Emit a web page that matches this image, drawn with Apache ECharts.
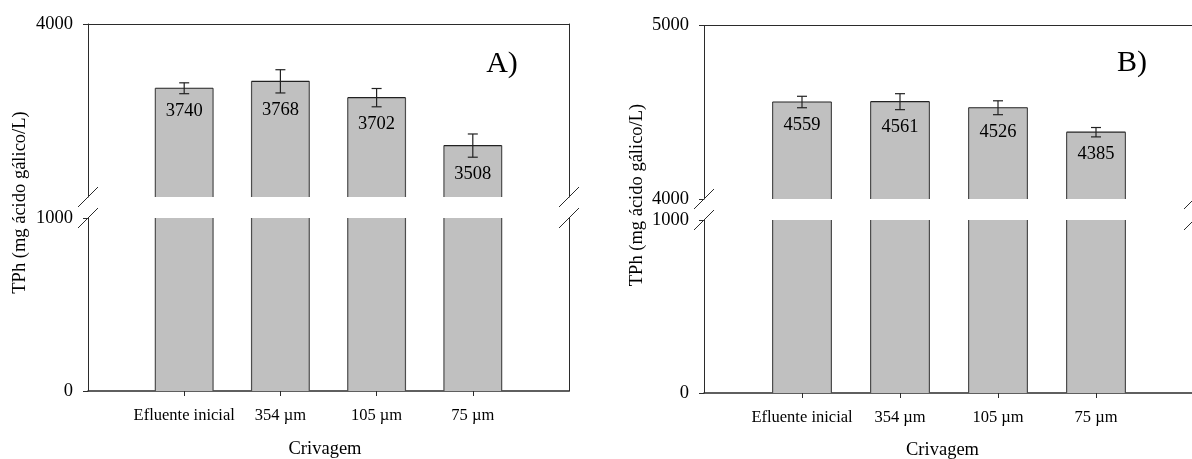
<!DOCTYPE html>
<html>
<head>
<meta charset="utf-8">
<script src="https://cdn.jsdelivr.net/npm/echarts@6/dist/echarts.min.js"></script>
<style>
  html, body { margin: 0; padding: 0; background: #fff; }
  #chart { width: 1192px; height: 459px; }
</style>
</head>
<body>
<div id="chart"></div>
<script>
// TPh por fração de crivagem (média ± desvio)
const categories = ['Efluente inicial', '354 µm', '105 µm', '75 µm'];
const tphA = [3740, 3768, 3702, 3508];
const errA = [22, 47, 37, 47];
const tphB = [4559, 4561, 4526, 4385];
const errB = [33, 46, 40, 27];

// segments of the broken value axes
const upperA = [3300, 4000];
const upperB = [4000, 5000];
const lowerRange = [0, 1000];
const upperTicksA = [4000];
const upperTicksB = [4000, 5000];
const lowerTicks = [0, 1000];

const panelLetters = ['A)', 'B)'];
const yTitle = 'TPh (mg ácido gálico/L)';
const xTitle = 'Crivagem';

const FONT = '"Liberation Serif", "Times New Roman", serif';
const AXIS_COLOR = '#2b2b2b';

// category slots: one empty slot on each side of the four fractions
const slots = [''].concat(categories, ['']);

const chart = echarts.init(document.getElementById('chart'));

// grid boxes: [A upper, A lower, B upper, B lower]
const grids = [
  { left: 88, top: 24, width: 481, height: 173 },
  { left: 88, top: 218, width: 481, height: 173 },
  { left: 704, top: 25.5, width: 490, height: 173.5 },
  { left: 704, top: 220, width: 490, height: 173 }
].map(g => Object.assign({ outerBoundsMode: 'none', containLabel: false }, g));

function xAxisFor(gridIndex, isLower) {
  return {
    type: 'category',
    gridIndex,
    data: slots,
    boundaryGap: false,
    position: isLower ? 'bottom' : 'top',
    axisLine: { show: true, lineStyle: { color: AXIS_COLOR, width: isLower ? 1.5 : 1 } },
    axisTick: {
      show: isLower,
      length: 5,
      inside: false,
      interval: (i) => i >= 1 && i <= categories.length,
      lineStyle: { color: AXIS_COLOR }
    },
    axisLabel: {
      show: isLower,
      interval: 0,
      margin: 16,
      color: '#000',
      fontFamily: FONT,
      fontSize: 16.5
    },
    splitLine: { show: false }
  };
}

function yAxisLeft(gridIndex, range, ticks) {
  return {
    type: 'value',
    gridIndex,
    position: 'left',
    min: range[0],
    max: range[1],
    axisLine: { show: true, lineStyle: { color: AXIS_COLOR, width: 1 } },
    axisTick: { show: true, length: 5, inside: false, customValues: ticks, lineStyle: { color: AXIS_COLOR } },
    axisLabel: {
      show: true,
      customValues: ticks,
      formatter: (v) => String(v),
      margin: 15,
      color: '#000',
      fontFamily: FONT,
      fontSize: 18.5
    },
    splitLine: { show: false }
  };
}

function yAxisRight(gridIndex, range) {
  return {
    type: 'value',
    gridIndex,
    position: 'right',
    min: range[0],
    max: range[1],
    axisLine: { show: true, lineStyle: { color: AXIS_COLOR, width: 1 } },
    axisTick: { show: false },
    axisLabel: { show: false },
    splitLine: { show: false }
  };
}

// bar drawn as fill + outline pieces, cut at the segment edges
function renderBar(withDetails) {
  return function (params, api) {
    const cs = params.coordSys;
    const idx = api.value(0);
    const val = api.value(1);
    const err = api.value(2);
    const topPt = api.coord([idx, val]);
    const basePt = api.coord([idx, 0]);
    const w = api.size([1, 0])[0] * 0.6;
    const cx = topPt[0];
    const x0 = cx - w / 2, x1 = cx + w / 2;
    const yTop = Math.max(topPt[1], cs.y);
    const yBot = Math.min(basePt[1], cs.y + cs.height);
    if (yBot <= yTop) return null;
    const edge = { stroke: '#4d4d4d', lineWidth: 1.2 };
    const children = [
      { type: 'rect', shape: { x: x0, y: yTop, width: w, height: yBot - yTop }, style: { fill: '#c0c0c0' } },
      { type: 'line', shape: { x1: x0, y1: yTop, x2: x0, y2: yBot }, style: edge },
      { type: 'line', shape: { x1: x1, y1: yTop, x2: x1, y2: yBot }, style: edge }
    ];
    if (topPt[1] >= cs.y && topPt[1] <= cs.y + cs.height) {
      children.push({ type: 'line', shape: { x1: x0, y1: yTop, x2: x1, y2: yTop }, style: { stroke: '#222', lineWidth: 1.2 } });
      if (withDetails) {
        const hi = api.coord([idx, val + err])[1];
        const lo = api.coord([idx, val - err])[1];
        const cap = 5;
        const es = { stroke: '#222', lineWidth: 1.2 };
        children.push(
          { type: 'line', shape: { x1: cx, y1: hi, x2: cx, y2: lo }, style: es },
          { type: 'line', shape: { x1: cx - cap, y1: hi, x2: cx + cap, y2: hi }, style: es },
          { type: 'line', shape: { x1: cx - cap, y1: lo, x2: cx + cap, y2: lo }, style: es },
          {
            type: 'text',
            x: cx,
            y: lo + 17,
            style: {
              text: String(val),
              fill: '#000',
              font: '18.5px ' + FONT,
              align: 'center',
              verticalAlign: 'middle'
            }
          }
        );
      }
    }
    return { type: 'group', children };
  };
}

// slanted break marks on both vertical borders of a segment
function renderBreak(atBottom) {
  return function (params) {
    const cs = params.coordSys;
    const y = atBottom ? cs.y + cs.height : cs.y;
    const s = { stroke: '#2b2b2b', lineWidth: 1 };
    const mark = (x) => ({ type: 'line', shape: { x1: x - 10, y1: y + 10, x2: x + 10, y2: y - 10 }, style: s });
    return { type: 'group', children: [mark(cs.x), mark(cs.x + cs.width)] };
  };
}

function barData(values, errs) {
  return values.map((v, i) => [i + 1, v, errs[i]]);
}

const series = [];
const panels = [
  { values: tphA, errs: errA, up: 0, low: 1 },
  { values: tphB, errs: errB, up: 2, low: 3 }
];
panels.forEach(p => {
  const data = barData(p.values, p.errs);
  series.push({
    type: 'custom', xAxisIndex: p.up, yAxisIndex: p.up * 2, data,
    renderItem: renderBar(true), silent: true, clip: false, z: 3
  });
  series.push({
    type: 'custom', xAxisIndex: p.low, yAxisIndex: p.low * 2, data,
    renderItem: renderBar(false), silent: true, clip: false, z: 3
  });
  series.push({
    type: 'custom', xAxisIndex: p.up, yAxisIndex: p.up * 2, data: [[0, 0]],
    renderItem: renderBreak(true), silent: true, clip: false, z: 5
  });
  series.push({
    type: 'custom', xAxisIndex: p.low, yAxisIndex: p.low * 2, data: [[0, 0]],
    renderItem: renderBreak(false), silent: true, clip: false, z: 5
  });
});

const textStyle = (size) => ({ fill: '#000', font: size + 'px ' + FONT, align: 'center', verticalAlign: 'middle' });

chart.setOption({
  animation: false,
  backgroundColor: '#fff',
  textStyle: { fontFamily: FONT },
  grid: grids,
  xAxis: [xAxisFor(0, false), xAxisFor(1, true), xAxisFor(2, false), xAxisFor(3, true)],
  yAxis: [
    yAxisLeft(0, upperA, upperTicksA), yAxisRight(0, upperA),
    yAxisLeft(1, lowerRange, lowerTicks), yAxisRight(1, lowerRange),
    yAxisLeft(2, upperB, upperTicksB), yAxisRight(2, upperB),
    yAxisLeft(3, lowerRange, lowerTicks), yAxisRight(3, lowerRange)
  ],
  series,
  graphic: [
    { type: 'text', x: 20, y: 202.5, rotation: Math.PI / 2, style: Object.assign({ text: yTitle }, textStyle(18.5)) },
    { type: 'text', x: 637, y: 195, rotation: Math.PI / 2, style: Object.assign({ text: yTitle }, textStyle(18.5)) },
    { type: 'text', x: 325, y: 449, style: Object.assign({ text: xTitle }, textStyle(18.5)) },
    { type: 'text', x: 942.5, y: 450, style: Object.assign({ text: xTitle }, textStyle(18.5)) },
    { type: 'text', x: 502, y: 64, style: Object.assign({ text: panelLetters[0] }, textStyle(30)) },
    { type: 'text', x: 1132, y: 63, style: Object.assign({ text: panelLetters[1] }, textStyle(30)) }
  ]
});
</script>
</body>
</html>
